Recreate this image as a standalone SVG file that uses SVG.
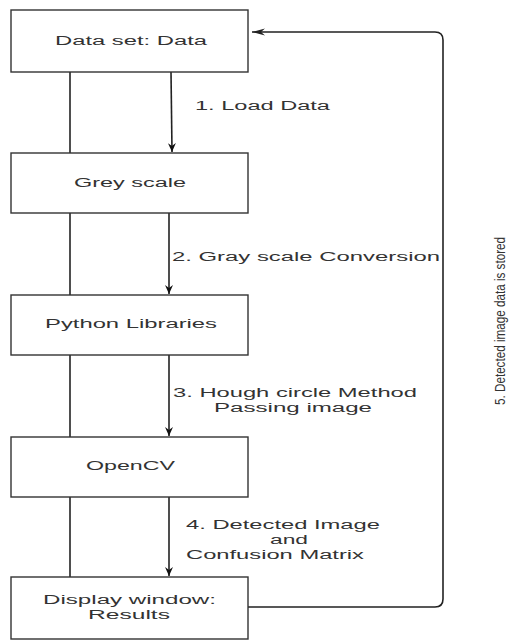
<svg xmlns="http://www.w3.org/2000/svg" width="516" height="640" viewBox="0 0 516 640">
<style>
.box{fill:#fff;stroke:#333;stroke-width:1.4}
.t{font-family:"Liberation Sans",Arial,sans-serif;font-size:12.5px;fill:#333;text-anchor:start}
.ln{fill:none;stroke:#222;stroke-width:1.6}
</style>
<defs>
<marker id="ah" markerWidth="10" markerHeight="8" refX="9" refY="4" orient="auto" markerUnits="userSpaceOnUse">
<path d="M0,0 L9,4 L0,8 L3,4 Z" fill="#111"/>
</marker>
<marker id="ah2" markerWidth="14" markerHeight="8" refX="13" refY="4" orient="auto" markerUnits="userSpaceOnUse">
<path d="M0,0.5 L13,4 L0,7.5 L4,4 Z" fill="#222"/>
</marker>
</defs>
<rect width="516" height="640" fill="#fff"/>
<g id="connectors">
<line class="ln" x1="70" y1="72" x2="70" y2="153"/>
<line class="ln" x1="70" y1="213" x2="70" y2="295"/>
<line class="ln" x1="70" y1="355" x2="70" y2="437"/>
<line class="ln" x1="70" y1="497" x2="70" y2="577"/>
<line class="ln" x1="171" y1="72" x2="172" y2="152" marker-end="url(#ah)"/>
<line class="ln" x1="169" y1="213" x2="169" y2="294" marker-end="url(#ah)"/>
<line class="ln" x1="169" y1="355" x2="169" y2="436" marker-end="url(#ah)"/>
<line class="ln" x1="169" y1="497" x2="169" y2="576" marker-end="url(#ah)"/>
<path class="ln" stroke="#444" d="M248,607 L435,607 Q443,607 443,599 L443,40 Q443,32 435,32 L252,32" marker-end="url(#ah2)"/>
<text class="t" x="195" y="110" textLength="135" lengthAdjust="spacingAndGlyphs">1. Load Data</text>
<text class="t" x="172" y="261" textLength="268" lengthAdjust="spacingAndGlyphs">2. Gray scale Conversion</text>
<text class="t" x="173" y="397" textLength="244" lengthAdjust="spacingAndGlyphs">3. Hough circle Method</text>
<text class="t" x="214" y="412" textLength="158" lengthAdjust="spacingAndGlyphs">Passing image</text>
<text class="t" x="186" y="529" textLength="194" lengthAdjust="spacingAndGlyphs">4. Detected Image</text>
<text class="t" x="270" y="544" textLength="38" lengthAdjust="spacingAndGlyphs">and</text>
<text class="t" x="186" y="559" textLength="178" lengthAdjust="spacingAndGlyphs">Confusion Matrix</text>
<text class="t" transform="translate(505,405) rotate(-90)" x="0" y="0" style="font-size:14px" textLength="168" lengthAdjust="spacingAndGlyphs">5. Detected image data is stored</text>
</g>
<g id="n1">
<rect class="box" x="11" y="10" width="237" height="62"/>
<text class="t" x="55" y="45" textLength="152" lengthAdjust="spacingAndGlyphs">Data set: Data</text>
</g>
<g id="n2">
<rect class="box" x="11" y="153" width="237" height="60"/>
<text class="t" x="74" y="187" textLength="112" lengthAdjust="spacingAndGlyphs">Grey scale</text>
</g>
<g id="n3">
<rect class="box" x="11" y="295" width="237" height="60"/>
<text class="t" x="45" y="328" textLength="172" lengthAdjust="spacingAndGlyphs">Python Libraries</text>
</g>
<g id="n4">
<rect class="box" x="11" y="437" width="237" height="60"/>
<text class="t" x="86" y="470" textLength="89" lengthAdjust="spacingAndGlyphs">OpenCV</text>
</g>
<g id="n5">
<rect class="box" x="11" y="577" width="237" height="62"/>
<text class="t" x="43" y="604" textLength="173" lengthAdjust="spacingAndGlyphs">Display window:</text>
<text class="t" x="88" y="619" textLength="82" lengthAdjust="spacingAndGlyphs">Results</text>
</g>
</svg>
